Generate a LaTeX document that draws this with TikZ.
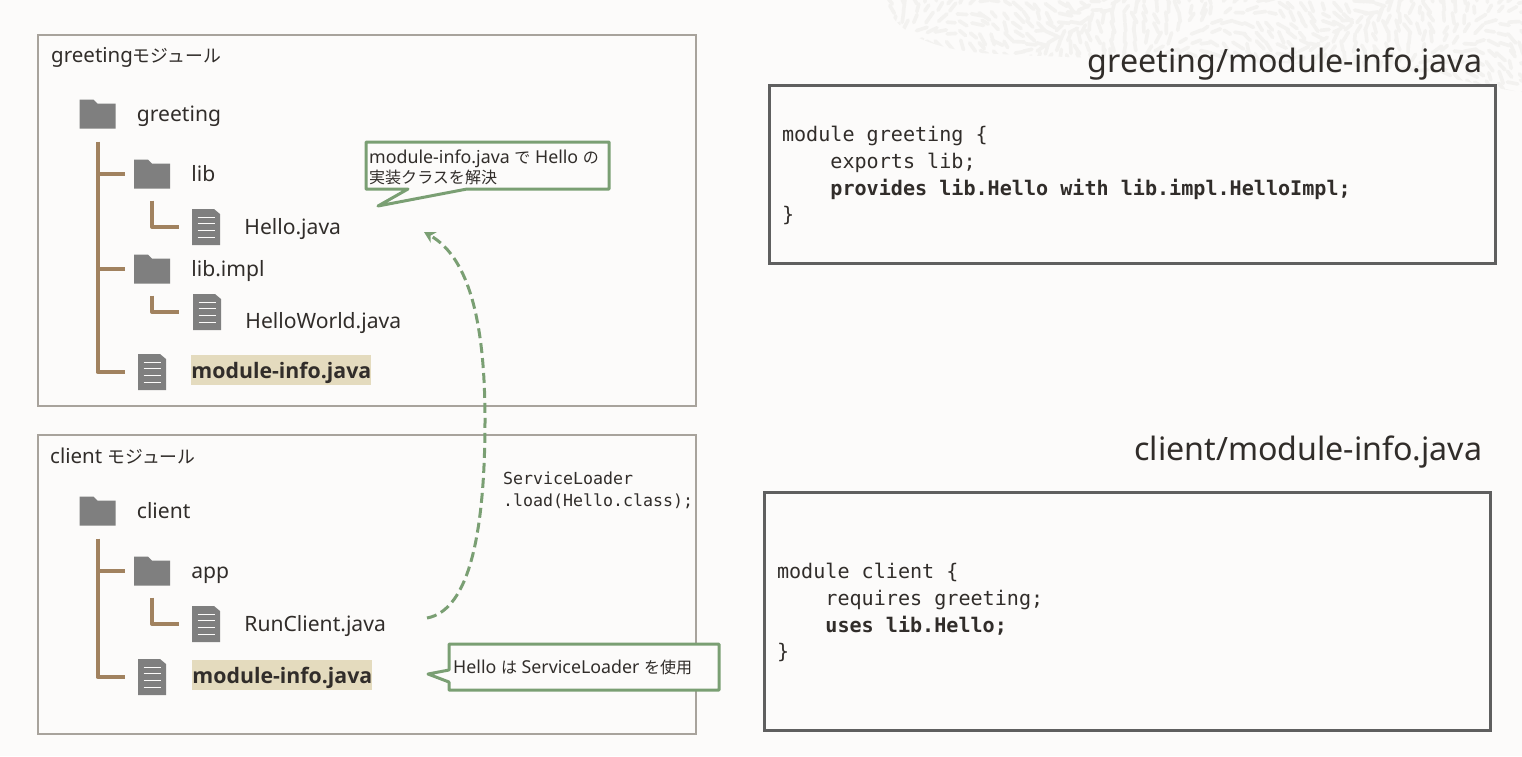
\documentclass[tikz,border=0pt]{standalone}
\usepackage{fontspec}
\setmainfont{Noto Sans}
\setmonofont{DejaVu Sans Mono}
\newfontfamily\negrafont{Open Sans}
\newfontfamily\jpfont[Scale=0.9]{Noto Sans CJK JP}
\newfontfamily\jpmfont[Scale=0.87]{Noto Sans CJK JP}
\usetikzlibrary{arrows.meta,positioning,calc}
\definecolor{fondo}{RGB}{252,251,250}
\definecolor{marca}{RGB}{243,242,240}
\definecolor{tinta}{RGB}{49,45,42}
\definecolor{gris}{RGB}{127,127,127}
\definecolor{borde}{RGB}{168,163,156}
\definecolor{oscuro}{RGB}{95,95,95}
\definecolor{rama}{RGB}{161,130,95}
\definecolor{verde}{RGB}{122,159,115}
\definecolor{resalte}{RGB}{228,219,190}
\newcommand{\jp}[1]{{\jpfont #1}}
\newcommand{\jpm}[1]{{\jpmfont #1}}
\newcommand{\ind}{\phantom{xxxx}}
\newcommand{\alto}{\rule{0pt}{19pt}}
\tikzset{
  modulo/.style={draw=borde, line width=1.6pt, inner sep=0pt, outer sep=0pt, anchor=north west},
  titmod/.style={font=\fontsize{20.5}{24}\selectfont, text=tinta, inner sep=0pt, anchor=west},
  titulo/.style={font=\fontsize{32.2}{36}\selectfont, text=tinta, inner sep=0pt, anchor=east},
  codigo/.style={draw=oscuro, line width=3pt, inner sep=0pt, outer sep=0pt, anchor=north west, minimum width=726pt, text width=700pt, align=flush left, text=tinta, font=\fontsize{20.1}{26.6}\ttfamily},
  carpeta/.style={minimum width=36pt, minimum height=29pt, inner sep=0pt, path picture={
    \fill[gris] ($(path picture bounding box.south west)$) -- ++(0,29pt) -- ++(14pt,0) -- ++(4pt,-4pt) -- ++(18pt,0) -- ++(0,-25pt) -- cycle;}},
  archivo/.style={minimum width=28pt, minimum height=36pt, inner sep=0pt, path picture={
    \coordinate (pb) at (path picture bounding box.south west);
    \fill[gris] (pb) -- ++(0,36pt) -- ++(22pt,0) -- ++(6pt,-5pt) -- ++(0,-31pt) -- cycle;
    \foreach \yy in {8,14.7,21.4,28} \draw[fondo, line width=1pt] ($(pb)+(5.5pt,\yy pt)$) -- ++(17pt,0);}},
  etq/.style={font=\fontsize{21.1}{26}\selectfont, text=tinta, inner sep=0pt, text height=20pt, text depth=5pt},
  resaltado/.style={font=\fontsize{21.3}{26}\negrafont\bfseries, text=tinta, fill=resalte, inner sep=0pt, minimum width=180pt, minimum height=30pt, text height=18pt, text depth=2pt},
  arbol/.style={draw=rama, line width=4pt, line join=round},
  aviso/.style={draw=verde, fill=fondo, line width=3pt, line join=round},
  avtxt/.style={font=\fontsize{17.8}{20}\selectfont, text=tinta, inner sep=0pt, align=left, anchor=north west},
  fl/.style={-{Stealth[length=11pt,width=12pt]}, verde, line width=3pt, dash pattern=on 10pt off 5pt},
  monot/.style={font=\fontsize{16.6}{22}\ttfamily, text=tinta, inner sep=0pt, align=left, anchor=north west},
}
\begin{document}
\begin{tikzpicture}[x=1pt,y=-1pt,node distance=21pt and 21pt]
  \useasboundingbox (0,0) rectangle (1522,756);
  \fill[fondo] (0,0) rectangle (1522,756);
  % trama del fondo
  \begin{scope}
    \clip (886,0) .. controls (890,30) and (930,52) .. (1000,54) .. controls (1150,62) and (1300,60) .. (1400,70) .. controls (1450,76) and (1500,90) .. (1522,92) -- (1522,0) -- cycle;
    \pgfmathsetseed{42}
    \foreach \px in {880,891,...,1522} \foreach \py in {0,10,...,96} {
      \pgfmathsetmacro{\ang}{80*sin(\px*1.3+\py*2.1)+50*rnd}
      \pgfmathsetmacro{\lar}{7+6*rnd}
      \draw[marca, line width=3.6pt, line cap=round] (\px+4*rnd,\py+4*rnd) -- ++(\ang:\lar pt);
    }
  \end{scope}

  % modulos
  \node[modulo, minimum width=658pt, minimum height=371pt] (modgreeting) at (38,35) {};
  \node[modulo, minimum width=658pt, minimum height=299pt] (modclient) at (38,435) {};
  \node[titmod] (titgreeting) at (51,57) {greeting\jpm{モジュール}};
  \node[titmod] (titclient) at (50,456) {client \jpm{モジュール}};

  % arbol greeting
  \node[carpeta] (dgreeting) at (97.5,114) {};
  \node[etq, right=of dgreeting] (lgreeting) {greeting};
  \node[carpeta] (dlib) at (152,174) {};
  \node[etq, right=of dlib] (llib) {lib};
  \node[archivo] (fhello) at (206,227) {};
  \node[etq, right=24pt of fhello] (lhello) {Hello.java};
  \node[carpeta] (dimpl) at (152,269) {};
  \node[etq, right=of dimpl] (limpl) {lib.impl};
  \node[archivo] (fworld) at (207,312) {};
  \node[etq, right=24pt of fworld, yshift=-9pt] (lworld) {HelloWorld.java};
  \node[archivo] (finfo) at (152,372) {};
  \node[resaltado, right=25pt of finfo, yshift=2pt] (linfo) {module-info.java};
  \draw[arbol] ([yshift=-13pt]dgreeting.south) -- (finfo.west -| dgreeting.south) -- ([xshift=-13pt]finfo.west);
  \draw[arbol] (dlib.west -| dgreeting.south) -- ([xshift=-9pt]dlib.west);
  \draw[arbol] (dimpl.west -| dgreeting.south) -- ([xshift=-9pt]dimpl.west);
  \draw[arbol] ([yshift=-12pt]dlib.south -| dlib.center) |- ([xshift=-13pt]fhello.west);
  \draw[arbol] ([yshift=-12pt]dimpl.south -| dimpl.center) |- ([xshift=-14pt]fworld.west);

  % arbol client
  \node[carpeta] (dclient) at (97.5,511) {};
  \node[etq, right=of dclient] (lclient) {client};
  \node[carpeta] (dapp) at (152,571) {};
  \node[etq, right=of dapp] (lapp) {app};
  \node[archivo] (frun) at (206,624) {};
  \node[etq, right=24pt of frun] (lrun) {RunClient.java};
  \node[archivo] (finfoc) at (152,677) {};
  \node[resaltado, right=26pt of finfoc, yshift=2pt] (linfoc) {module-info.java};
  \draw[arbol] ([yshift=-13pt]dclient.south) -- (finfoc.west -| dclient.south) -- ([xshift=-13pt]finfoc.west);
  \draw[arbol] (dapp.west -| dclient.south) -- ([xshift=-9pt]dapp.west);
  \draw[arbol] ([yshift=-12pt]dapp.south -| dapp.center) |- ([xshift=-13pt]frun.west);

  % avisos
  \draw[aviso] (366,142) coordinate (av1) -- (609,142) -- (609,189) -- (467,189) -- (378,206) -- (408,189) -- (366,189) -- cycle;
  \node[avtxt] (txtav1) at (369,149.5) {module-info.java \jp{で} Hello \jp{の}\\\jp{実装クラスを解決}};
  \draw[aviso] (449,644) coordinate (av2) -- (719,644) -- (719,690) -- (449,690) -- (449,682) -- (428,674) -- (449,670) -- cycle;
  \node[avtxt] (txtav2) at (453,660) {Hello \jp{は} ServiceLoader \jp{を使用}};

  % llamada
  \coordinate (ini) at (427,618);
  \coordinate (med) at (485,420);
  \coordinate (fin) at (424,232);
  \draw[fl] (ini) .. controls (470,610) and (485,530) .. (med) .. controls (485,325) and (470,258) .. (fin);
  \node[monot] (carga) at (503,472) {ServiceLoader\\.load(Hello.class);};

  % codigo
  \node[titulo] (tcod1) at (1482.5,64) {greeting/module-info.java};
  \node[codigo, minimum height=178pt] (cod1) at (769,85) {\alto module greeting \{\\
    \ind exports lib;\\
    \ind \textbf{provides lib.Hello with lib.impl.HelloImpl;}\\
    \}};
  \node[titulo] (tcod2) at (1482.5,452) {client/module-info.java};
  \node[codigo, minimum height=238pt] (cod2) at (764,492) {\alto module client \{\\
    \ind requires greeting;\\
    \ind \textbf{uses lib.Hello;}\\
    \}};
\end{tikzpicture}
\end{document}
